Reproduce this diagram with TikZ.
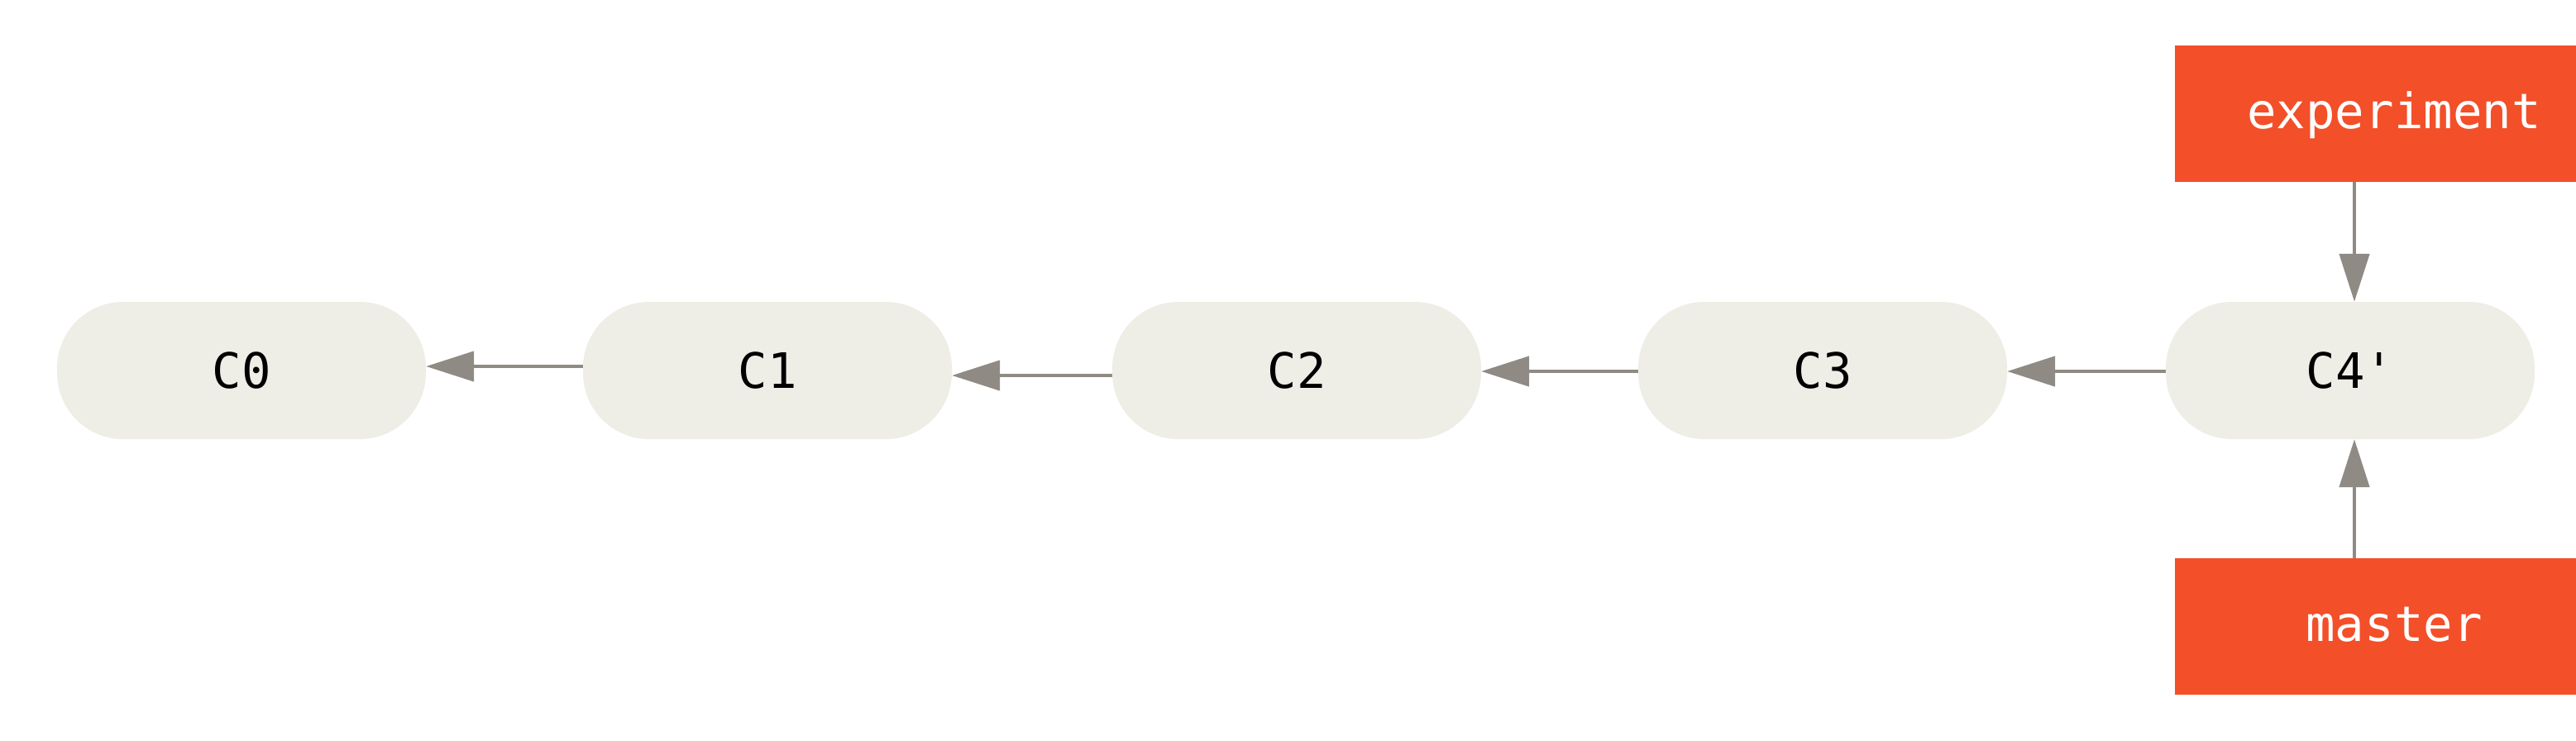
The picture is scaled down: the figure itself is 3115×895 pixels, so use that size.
\documentclass[tikz,border=0pt]{standalone}
\usepackage{fontspec}
\setmonofont{DejaVu Sans Mono}
\usetikzlibrary{arrows.meta}
\definecolor{commitfill}{RGB}{238,237,230}
\definecolor{arrowgray}{RGB}{143,138,131}
\definecolor{branchred}{RGB}{243,79,41}
\tikzset{
  commit/.style={fill=commitfill, rounded corners=80pt, minimum width=446pt, minimum height=166pt, inner sep=0pt,
    font=\ttfamily\fontsize{59pt}{70pt}\selectfont, text=black},
  branch/.style={fill=branchred, minimum width=530pt, minimum height=165pt, inner sep=0pt,
    text height=40pt, text depth=5pt,
    font=\ttfamily\fontsize{59pt}{70pt}\selectfont, text=white},
  arr/.style={draw=arrowgray, line width=4.5pt, -{Triangle[length=58pt,width=36pt]}, fill=arrowgray}
}
\begin{document}
\begin{tikzpicture}[x=1pt,y=-1pt]
\useasboundingbox (0,0) rectangle (3115,895);
\clip (0,0) rectangle (3115,895);
\node[commit] (c0) at (292,448) {C0};
\node[commit] (c1) at (928,448) {C1};
\node[commit] (c2) at (1568,448) {C2};
\node[commit] (c3) at (2204,448) {C3};
\node[commit] (c4) at (2842,448) {C4'};
\node[branch] (exp) at (2895,137.5) {experiment};
\node[branch] (mst) at (2895,757.5) {master};
\coordinate (ax) at (2847,0);
\draw[arr] ([yshift=5pt]c1.west) -- ([yshift=5pt]c0.east);
\draw[arr] ([yshift=-6pt]c2.west) -- ([yshift=-6pt]c1.east);
\draw[arr] ([yshift=-1pt]c3.west) -- ([yshift=-1pt]c2.east);
\draw[arr] ([yshift=-1pt]c4.west) -- ([yshift=-1pt]c3.east);
\draw[arr] (exp.south -| ax) -- (c4.north -| ax);
\draw[arr] (mst.north -| ax) -- (c4.south -| ax);
\end{tikzpicture}
\end{document}
